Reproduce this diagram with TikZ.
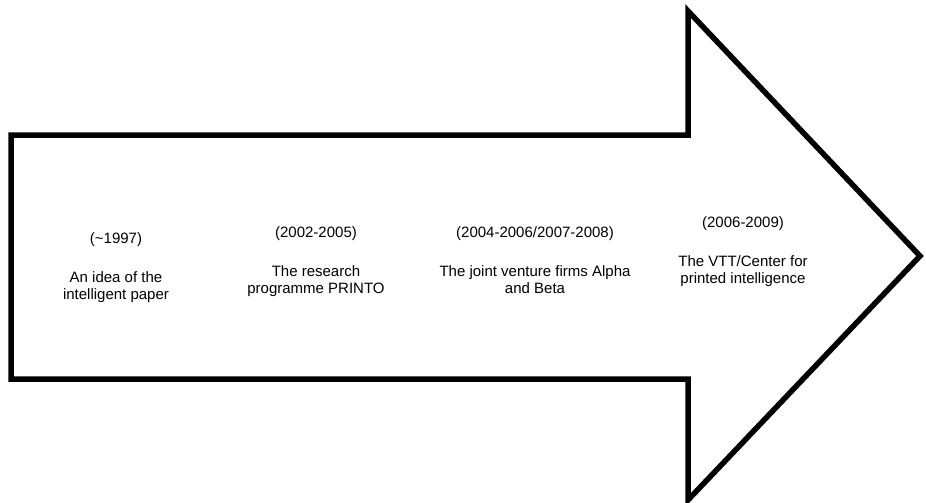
\documentclass[tikz,border=0pt]{standalone}
\usepackage{fontspec}
\setmainfont{Liberation Sans}
\begin{document}
\begin{tikzpicture}[x=1pt,y=-1pt,
  outline/.style={draw=black,line width=5.5pt,miter limit=20,line join=miter},
  lbl/.style={anchor=base,inner sep=0pt,font=\fontsize{15}{17.5}\selectfont}]
\useasboundingbox (0,0) rectangle (926,503);
% the big timeline arrow
\draw[outline] (11,135) -- (688,135) -- (688,11) -- (920,256) -- (688,500)
  -- (688,379) -- (11,379) -- cycle;
% column 1
\node[lbl] (y1) at (116,243) {(\textasciitilde1997)};
\node[lbl] (a1) at (116,282) {An idea of the};
\node[lbl] (b1) at (116,299.5) {intelligent paper};
% column 2
\node[lbl] (y2) at (316,237) {(2002-2005)};
\node[lbl] (a2) at (316,276) {The research};
\node[lbl] (b2) at (316,293.5) {programme PRINTO};
% column 3
\node[lbl] (y3) at (535,237) {(2004-2006/2007-2008)};
\node[lbl] (a3) at (535,276) {The joint venture firms Alpha};
\node[lbl] (b3) at (535,293.5) {and Beta};
% column 4
\node[lbl] (y4) at (743,227) {(2006-2009)};
\node[lbl] (a4) at (743,266) {The VTT/Center for};
\node[lbl] (b4) at (743,283.5) {printed intelligence};
\end{tikzpicture}
\end{document}
